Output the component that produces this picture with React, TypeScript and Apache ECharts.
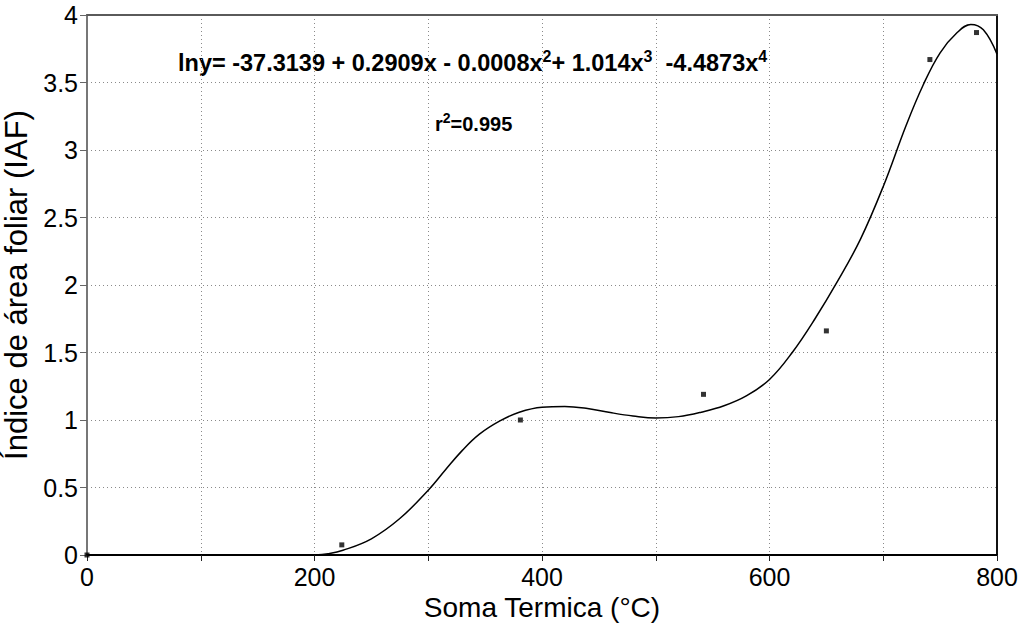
import React, { useEffect, useRef } from "react";
import * as echarts from "echarts";

// Observed leaf area index points (Soma Termica °C, IAF)
const obsX = [0, 224, 381, 542, 650, 741, 782];
const obsY = [0, 0.075, 1.0, 1.19, 1.66, 3.67, 3.87];

// Fitted curve
const fitX = [200, 212, 225, 250, 275, 300, 315, 330, 345, 363, 380, 400, 420, 440, 460, 480, 500, 520, 540, 560, 580, 600, 620, 640, 660, 680, 700, 720, 735, 750, 765, 777, 788, 800];
const fitY = [0, 0.01, 0.035, 0.12, 0.27, 0.48, 0.63, 0.775, 0.895, 0.993, 1.058, 1.095, 1.1, 1.085, 1.055, 1.03, 1.015, 1.025, 1.058, 1.105, 1.18, 1.3, 1.5, 1.75, 2.03, 2.34, 2.73, 3.18, 3.48, 3.72, 3.87, 3.93, 3.89, 3.71];

const xLabels = ["0", "200", "400", "600", "800"];
const xTitle = "Soma Termica (°C)";
const yTitle = "Índice de área foliar (IAF)";
const equation = "{m|lny= -37.3139 + 0.2909x - 0.0008x}{s|2}{m|+ 1.014x}{s|3}{m|  -4.4873x}{s|4}";
const r2Text = "{m|r}{s|2}{m|=0.995}";

const SANS = '"Liberation Sans", Arial, sans-serif';

export default function App() {
  const ref = useRef<HTMLDivElement>(null);
  useEffect(() => {
    const chart = echarts.init(ref.current!, null, { renderer: "svg" });
    const grid = { type: [1, 3], color: "#8a8a8a", width: 1 };
    chart.setOption({
      animation: false,
      backgroundColor: "#ffffff",
      grid: { left: 87, right: 22, top: 15, bottom: 73, outerBoundsMode: "none" },
      xAxis: [
        {
          type: "value",
          min: 0,
          max: 800,
          interval: 100,
          position: "bottom",
          name: xTitle,
          nameLocation: "middle",
          nameGap: 38,
          nameTextStyle: { fontFamily: SANS, fontSize: 28, color: "#000" },
          axisLine: { show: true, onZero: false, lineStyle: { color: "#000", width: 2 } },
          axisTick: { show: true, inside: false, length: 6, lineStyle: { color: "#222", width: 1 } },
          axisLabel: {
            margin: 9,
            fontFamily: SANS,
            fontSize: 25,
            color: "#000",
            formatter: (v: number) => (xLabels.includes(String(v)) ? String(v) : ""),
          },
          splitLine: { show: true, lineStyle: grid },
        },
        {
          type: "value",
          min: 0,
          max: 800,
          interval: 100,
          position: "top",
          axisLine: { show: true, onZero: false, lineStyle: { color: "#5a5a5a", width: 2 } },
          axisTick: { show: false },
          axisLabel: { show: false },
          splitLine: { show: false },
        },
      ],
      yAxis: [
        {
          type: "value",
          min: 0,
          max: 4,
          interval: 0.5,
          position: "left",
          name: yTitle,
          nameLocation: "middle",
          nameGap: 38,
          nameRotate: 90,
          nameTextStyle: { fontFamily: SANS, fontSize: 31, color: "#000" },
          axisLine: { show: true, onZero: false, lineStyle: { color: "#777", width: 2 } },
          axisTick: { show: true, inside: false, length: 7, lineStyle: { color: "#666", width: 1 } },
          axisLabel: { margin: 9, fontFamily: SANS, fontSize: 25, color: "#000" },
          splitLine: { show: true, lineStyle: grid },
        },
        {
          type: "value",
          min: 0,
          max: 4,
          interval: 0.5,
          position: "right",
          axisLine: { show: true, onZero: false, lineStyle: { color: "#111", width: 2 } },
          axisTick: { show: false },
          axisLabel: { show: false },
          splitLine: { show: false },
        },
      ],
      series: [
        {
          type: "line",
          xAxisIndex: 0,
          yAxisIndex: 0,
          data: fitX.map((x, i) => [x, fitY[i]]),
          showSymbol: false,
          smooth: 0.4,
          lineStyle: { color: "#000", width: 1.5 },
          z: 3,
        },
        {
          type: "scatter",
          xAxisIndex: 0,
          yAxisIndex: 0,
          data: obsX.map((x, i) => [x, obsY[i]]),
          symbol: "rect",
          symbolSize: 5,
          itemStyle: { color: "#000" },
          z: 4,
        },
      ],
      graphic: [
        {
          type: "text",
          left: 178,
          top: 48,
          style: {
            text: equation,
            rich: {
              m: { fontFamily: SANS, fontSize: 23.5, fontWeight: "bold", color: "#000", lineHeight: 30 },
              s: { fontFamily: SANS, fontSize: 16, fontWeight: "bold", color: "#000", lineHeight: 16, verticalAlign: "top" },
            },
          },
        },
        {
          type: "text",
          left: 435,
          top: 111,
          style: {
            text: r2Text,
            rich: {
              m: { fontFamily: SANS, fontSize: 20, fontWeight: "bold", color: "#000", lineHeight: 26 },
              s: { fontFamily: SANS, fontSize: 14, fontWeight: "bold", color: "#000", lineHeight: 14, verticalAlign: "top" },
            },
          },
        },
      ],
    });
    return () => chart.dispose();
  }, []);
  return (
    <div
      ref={ref}
      style={{ position: "fixed", left: 0, top: 0, width: 1019, height: 628, background: "#fff" }}
    />
  );
}
